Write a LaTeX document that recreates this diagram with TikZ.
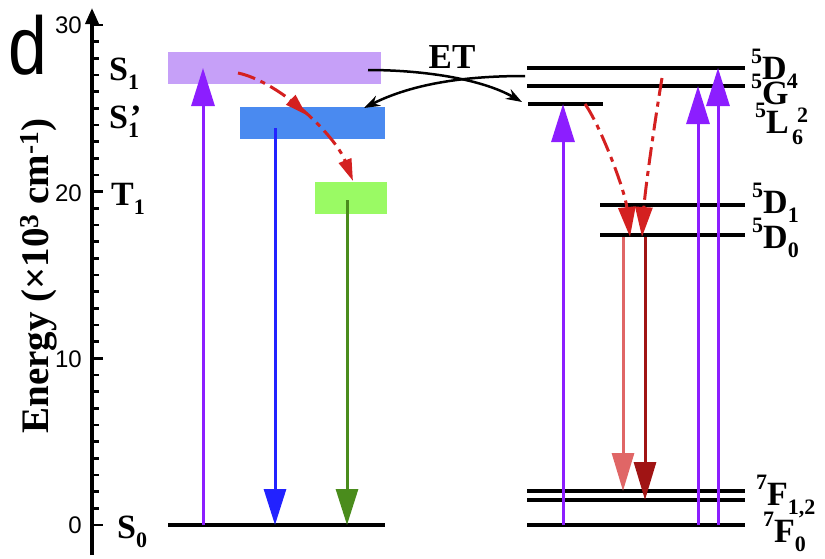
\documentclass[tikz,border=0pt]{standalone}
\usepackage{fontspec}
\setmainfont{Liberation Serif}
\newfontfamily\arialf{Liberation Sans}
\usetikzlibrary{arrows.meta,decorations.markings}
\definecolor{boxpurple}{RGB}{198,160,248}
\definecolor{boxblue}{RGB}{74,138,240}
\definecolor{boxgreen}{RGB}{154,250,100}
\definecolor{violetarr}{RGB}{140,30,255}
\definecolor{bluearr}{RGB}{34,34,255}
\definecolor{greenarr}{RGB}{74,140,28}
\definecolor{reddash}{RGB}{212,32,32}
\definecolor{salmon}{RGB}{224,102,102}
\definecolor{darkred}{RGB}{160,20,20}
\newcommand{\sbx}[1]{\raisebox{-0.28em}{\fontsize{22}{22}\selectfont #1}}
\newcommand{\spx}[1]{\raisebox{0.45em}{\fontsize{22}{22}\selectfont #1}}
\begin{document}
\begin{tikzpicture}[x=1pt,y=-1pt,
  lvl/.style={line width=3.5pt},
  lab/.style={font=\bfseries\fontsize{34}{34}\selectfont, inner sep=0pt, anchor=base west},
  sublab/.style={font=\bfseries\fontsize{22}{22}\selectfont, inner sep=0pt, anchor=base west},
  tick/.style={font=\arialf\fontsize{24}{24}\selectfont, inner sep=0pt, anchor=east},
  bigarr/.style={line width=3pt, -{Triangle[width=23pt,length=38pt]}},
  dasharr/.style={line width=3pt, reddash, dash pattern=on 18pt off 6pt on 5pt off 6pt},
  etarr/.style={line width=2.5pt, -{Stealth[width=11pt,length=16pt]}}]
\useasboundingbox (0,0) rectangle (825,558);
% panel letter
\node[font=\arialf\fontsize{82}{82}\selectfont, xscale=0.85, inner sep=0pt] (panel) at (28,45) {d};
% axis
\coordinate (axbot) at (92,555);
\coordinate (axtop) at (92,8);
\draw[line width=3.5pt, -{Triangle[width=13pt,length=16pt]}] (axbot) -- (axtop);
\foreach \i in {0,...,29} {
  \draw[line width=2.5pt] (92,525-\i*16.667) -- ++(7,0);
}
\foreach \i in {0,1,2,3} {
  \draw[line width=2.5pt] (92,525-\i*166.67) -- ++(11,0);
}
\node[tick] (t30) at (82,25) {30};
\node[tick] (t20) at (82,193) {20};
\node[tick] (t10) at (82,359) {10};
\node[tick] (t0) at (82,525) {0};
\node[font=\bfseries\fontsize{39}{39}\selectfont, rotate=90, anchor=base, inner sep=0pt] (ylab) at (48,276)
  {Energy (\texttimes10\textsuperscript{3} cm\textsuperscript{-1})};
% left boxes
\fill[boxpurple] (168,52) rectangle (381,84);
\fill[boxblue] (240,107) rectangle (385,139);
\fill[boxgreen] (315,182) rectangle (387,214);
\draw[lvl] (168,525) -- (385,525);
% left labels
\node[lab] (lS1) at (109,80) {S\sbx{1}};
\node[lab] (lS1p) at (109,128) {S\rlap{\sbx{1}}\kern2pt'};
\node[lab] (lT1) at (111,205) {T\sbx{1}};
\node[lab] (lS0) at (117,538) {S\sbx{0}};
% left arrows
\coordinate (pa0) at (203,525); \coordinate (pa1) at (203,68);
\draw[bigarr, violetarr] (pa0) -- (pa1);
\coordinate (ba0) at (275,128); \coordinate (ba1) at (275,525);
\draw[bigarr, bluearr, -{Triangle[width=22pt,length=36pt]}] (ba0) -- (ba1);
\coordinate (ga0) at (347,200); \coordinate (ga1) at (347,525);
\draw[bigarr, greenarr, -{Triangle[width=22pt,length=36pt]}] (ga0) -- (ga1);
% left dashed
\coordinate (d0) at (238,73); \coordinate (d1) at (353,181);
\draw[dasharr, -{Triangle[width=13pt,length=22pt]},
  postaction={decorate, decoration={markings, mark=at position 0.5 with {\arrow[reddash]{Triangle[width=13pt,length=22pt]}}}}]
  (d0) .. controls (280,82) and (335,135) .. (d1);
% right levels
\draw[lvl] (527,68) -- (745,68);
\draw[lvl] (527,86) -- (745,86);
\draw[lvl] (528,104) -- (603,104);
\draw[lvl] (600,205) -- (745,205);
\draw[lvl] (600,235) -- (745,235);
\draw[lvl] (527,491) -- (745,491);
\draw[lvl] (527,500) -- (745,500);
\draw[lvl] (527,525) -- (745,525);
% right labels
\node[lab] (lD4) at (751,79) {\spx{5}D\sbx{4}};
\node[lab] (lG2) at (751,104) {\spx{5}G};
\node[sublab] (lG2s) at (797,122) {2};
\node[lab] (lL6) at (755,133) {\spx{5}L};
\node[sublab] (lL6s) at (792,144) {6};
\node[lab] (lD1) at (752,213) {\spx{5}D\sbx{1}};
\node[lab] (lD0) at (752,248) {\spx{5}D\sbx{0}};
\node[lab] (lF12) at (756,505) {\spx{7}F\sbx{1,2}};
\node[lab] (lF0) at (763,542) {\spx{7}F\sbx{0}};
% ET
\node[font=\bfseries\fontsize{35}{35}\selectfont, inner sep=0pt] (ET) at (452,57) {ET};
\coordinate (eA0) at (368,70); \coordinate (eA1) at (522,102);
\coordinate (eB0) at (525,76); \coordinate (eB1) at (364,108);
\draw[etarr] (eA0) .. controls (420,70) and (480,78) .. (eA1);
\draw[etarr] (eB0) .. controls (480,76) and (420,80) .. (eB1);
% right arrows
\coordinate (r10) at (563,525); \coordinate (r11) at (563,104);
\coordinate (r20) at (698,525); \coordinate (r21) at (698,86);
\coordinate (r30) at (718,525); \coordinate (r31) at (718,68);
\draw[bigarr, violetarr] (r10) -- (r11);
\draw[bigarr, violetarr] (r20) -- (r21);
\draw[bigarr, violetarr] (r30) -- (r31);
\coordinate (rd0) at (585,104); \coordinate (rd1) at (630,237);
\coordinate (re0) at (662,78); \coordinate (re1) at (642,237);
\draw[dasharr, -{Triangle[width=17pt,length=30pt]}] (rd0) .. controls (600,125) and (625,190) .. (rd1);
\draw[dasharr, -{Triangle[width=17pt,length=30pt]}] (re0) .. controls (655,120) and (645,190) .. (re1);
\coordinate (s0) at (623,237); \coordinate (s1) at (623,491);
\coordinate (k0) at (645,237); \coordinate (k1) at (645,500);
\draw[bigarr, salmon, -{Triangle[width=22pt,length=38pt]}] (s0) -- (s1);
\draw[bigarr, darkred, -{Triangle[width=22pt,length=38pt]}] (k0) -- (k1);
\end{tikzpicture}
\end{document}
